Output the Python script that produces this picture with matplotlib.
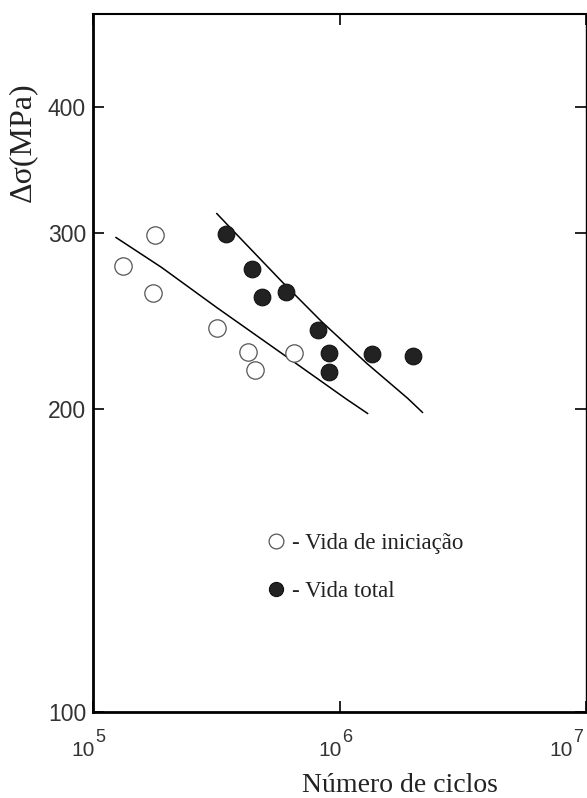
import numpy as np
import matplotlib.pyplot as plt
from matplotlib.ticker import FixedLocator, FixedFormatter, NullLocator, NullFormatter

plt.rcParams['font.family'] = ['Liberation Serif', 'DejaVu Serif']

# vida de iniciacao (open circles)
n_ini = [1.78e5, 1.32e5, 1.75e5, 3.18e5, 4.24e5, 4.53e5, 6.51e5]
s_ini = [298, 278, 261, 241, 228, 219, 227.5]

# vida total (filled circles)
n_tot = [3.46e5, 4.40e5, 4.83e5, 6.05e5, 8.15e5, 9.03e5, 9.03e5, 1.35e6, 1.99e6]
s_tot = [299, 276, 259, 262, 240, 227.5, 218, 227, 226]

# fitted curves
fit_ini_n = [1.24e5, 1.90e5, 3.18e5, 5.99e5, 1.07e6, 1.30e6]
fit_ini_s = [296.6, 276.9, 252.6, 226.4, 204.7, 198.2]
fit_tot_n = [3.18e5, 3.69e5, 5.88e5, 8.45e5, 1.29e6, 1.89e6, 2.17e6]
fit_tot_s = [313.3, 301.5, 267.6, 244.7, 222.3, 205.2, 198.7]

y_ticks = [100, 200, 300, 400]
x_ticks = [1e5, 1e6, 1e7]
x_exps = [5, 6, 7]

fig = plt.figure(figsize=(5.87, 7.98), dpi=100)
ax = fig.add_axes([93/587, 1 - 712/798, 493/587, 698/798])

ax.plot(fit_ini_n, fit_ini_s, color='black', lw=1.1)
ax.plot(fit_tot_n, fit_tot_s, color='black', lw=1.1)

ini, = ax.plot(n_ini, s_ini, 'o', ms=12.5, mfc='white', mec='#555555', mew=0.9,
               ls='none', label='- Vida de iniciação', zorder=3)
tot, = ax.plot(n_tot, s_tot, 'o', ms=12, mfc='#222222', mec='#111111', mew=0.8,
               ls='none', label='- Vida total', zorder=3)

ax.set_xscale('log')
ax.set_yscale('log')
ax.set_xlim(1e5, 1e7)
ax.set_ylim(100, 495)

ax.yaxis.set_major_locator(FixedLocator(y_ticks))
ax.yaxis.set_major_formatter(FixedFormatter([str(v) for v in y_ticks]))
ax.yaxis.set_minor_locator(NullLocator())
ax.xaxis.set_major_locator(FixedLocator(x_ticks))
ax.xaxis.set_major_formatter(NullFormatter())
ax.xaxis.set_minor_locator(NullLocator())

ax.tick_params(direction='in', length=8, width=1.2, top=True, right=True,
               labelsize=16.5, labelcolor='#333333', labelfontfamily='Liberation Sans')
ax.tick_params(axis='y', pad=5)

# x tick labels as 10 + raised exponent (exponent nearly full size, like the original)
for v, e in zip(x_ticks, x_exps):
    shift = -11 if e == 7 else 0
    ax.annotate('10', xy=(v, 0), xycoords=('data', 'axes fraction'),
                xytext=(1.5 + shift, -21), textcoords='offset points',
                ha='right', va='top', fontsize=15, color='#333333',
                family='Liberation Sans', annotation_clip=False)
    ax.annotate(str(e), xy=(v, 0), xycoords=('data', 'axes fraction'),
                xytext=(1.8 + shift, -12), textcoords='offset points',
                ha='left', va='top', fontsize=13, color='#333333',
                family='Liberation Sans', annotation_clip=False)

for side in ['left', 'bottom']:
    ax.spines[side].set_linewidth(2.0)
ax.spines['top'].set_linewidth(1.5)
ax.spines['right'].set_linewidth(1.0)

ax.set_xlabel('Número de ciclos', fontsize=20, color='#222222')
ax.xaxis.set_label_coords(0.623, -0.087)
ax.set_ylabel('Δσ(MPa)', fontsize=23, color='#222222')
ax.yaxis.set_label_coords(-0.113, 0.817)

leg = ax.legend(handles=[ini, tot], loc='upper left', bbox_to_anchor=(0.333, 0.27),
                frameon=False, fontsize=16.5, markerscale=0.85, handlelength=0.8,
                handletextpad=0.3, labelspacing=1.2, borderaxespad=0)
for t in leg.get_texts():
    t.set_color('#222222')

fig.savefig('out.png', dpi=100)
